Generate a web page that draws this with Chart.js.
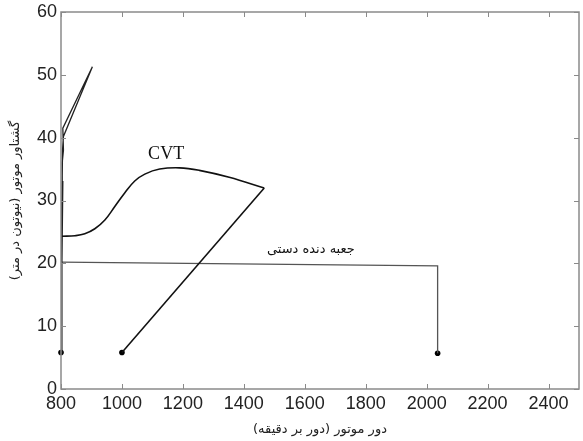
<!DOCTYPE html>
<html>
<head>
<meta charset="utf-8">
<script src="https://cdn.jsdelivr.net/npm/chart.js@4"></script>
<style>
html,body{margin:0;padding:0;background:#fff;}
#wrap{width:583px;height:441px;}
</style>
</head>
<body>
<div id="wrap"><canvas id="c" width="583" height="441"></canvas></div>
<script>
// ---- data ----
const xTicks = [800, 1000, 1200, 1400, 1600, 1800, 2000, 2200, 2400];
const yTicks = [0, 10, 20, 30, 40, 50, 60];

// CVT: straight rising branch, then the curved return branch
const cvtLineX = [1000, 1467];
const cvtLineY = [5.8, 32.0];
const cvtCurveX = [1467, 1352, 1254, 1189, 1124, 1075, 1042, 1009, 976, 944, 911, 878, 846, 803];
const cvtCurveY = [32.0, 33.7, 34.8, 35.2, 35.0, 34.2, 33.1, 31.2, 29.0, 26.9, 25.5, 24.7, 24.4, 24.3];

const lowGearX = [800, 803, 806, 804, 808, 806, 903, 808, 805, 803, 802];
const lowGearY = [5.8, 20, 33, 36, 38, 41.5, 51.3, 40.2, 38, 30, 20.2];

const manualX = [802, 2036, 2036];
const manualY = [20.2, 19.6, 5.7];

const dotX = [800, 1000, 2036];
const dotY = [5.8, 5.8, 5.7];

const labels = [
  {text: 'CVT', x: 1145, y: 37.3, font: '18px "Liberation Serif", serif'},
  {text: 'جعبه دنده دستی', x: 1620, y: 22.2, font: '13px "DejaVu Sans", sans-serif'}
];
const xTitle = 'دور موتور (دور بر دقیقه)';
const yTitle = 'گشتاور موتور (نیوتون در متر)';

const pts = (xs, ys) => xs.map((x, i) => ({x: x, y: ys[i]}));

const boxPlugin = {
  id: 'box',
  afterDraw(chart) {
    const {ctx, chartArea: a, scales} = chart;
    const xs = scales.x, ys = scales.y;
    ctx.save();
    ctx.strokeStyle = '#8a8a8a';
    ctx.lineWidth = 1.5;
    ctx.strokeRect(a.left, a.top, a.right - a.left, a.bottom - a.top);
    ctx.lineWidth = 1;
    const L = 5;
    ctx.beginPath();
    xTicks.forEach(v => {
      const px = Math.round(xs.getPixelForValue(v)) + 0.5;
      ctx.moveTo(px, a.bottom); ctx.lineTo(px, a.bottom - L);
      ctx.moveTo(px, a.top); ctx.lineTo(px, a.top + L);
    });
    yTicks.forEach(v => {
      const py = Math.round(ys.getPixelForValue(v)) + 0.5;
      ctx.moveTo(a.left, py); ctx.lineTo(a.left + L, py);
      ctx.moveTo(a.right, py); ctx.lineTo(a.right - L, py);
    });
    ctx.stroke();
    ctx.fillStyle = '#111';
    ctx.textAlign = 'center';
    ctx.textBaseline = 'middle';
    labels.forEach(l => {
      ctx.font = l.font;
      ctx.fillText(l.text, xs.getPixelForValue(l.x), ys.getPixelForValue(l.y));
    });
    ctx.restore();
  }
};

const tickFont = {family: '"Liberation Sans", Arial, sans-serif', size: 18};

new Chart(document.getElementById('c'), {
  type: 'scatter',
  data: {
    datasets: [
      {data: pts(cvtLineX, cvtLineY), showLine: true, borderColor: '#111', borderWidth: 1.6, pointRadius: 0, tension: 0},
      {data: pts(cvtCurveX, cvtCurveY), showLine: true, borderColor: '#111', borderWidth: 1.6, pointRadius: 0, tension: 0.4},
      {data: pts(lowGearX, lowGearY), showLine: true, borderColor: '#222', borderWidth: 1.3, pointRadius: 0, tension: 0},
      {data: pts(manualX, manualY), showLine: true, borderColor: '#555', borderWidth: 1.3, pointRadius: 0, tension: 0},
      {data: pts(dotX, dotY), showLine: false, clip: false, pointRadius: 2.8, pointBackgroundColor: '#000', pointBorderColor: '#000', pointBorderWidth: 0}
    ]
  },
  options: {
    responsive: false,
    animation: false,
    devicePixelRatio: 1,
    layout: {padding: {top: 12, right: 1, left: 0, bottom: 0}},
    plugins: {legend: {display: false}, tooltip: {enabled: false}},
    scales: {
      x: {
        type: 'linear', min: 800, max: 2500,
        afterBuildTicks: s => { s.ticks = xTicks.map(v => ({value: v})); },
        afterFit: s => { s.height = 52; s.paddingLeft = 0; s.paddingRight = 0; },
        grid: {display: false, drawTicks: false},
        border: {display: false},
        ticks: {color: '#222', padding: 4, font: tickFont, callback: v => String(v)},
        title: {display: true, text: xTitle, color: '#222', padding: {top: 0, bottom: 4},
                font: {family: '"DejaVu Sans", sans-serif', size: 13}}
      },
      y: {
        type: 'linear', min: 0, max: 60,
        afterBuildTicks: s => { s.ticks = yTicks.map(v => ({value: v})); },
        afterFit: s => { s.width = 61; s.paddingTop = 0; s.paddingBottom = 0; },
        grid: {display: false, drawTicks: false},
        border: {display: false},
        ticks: {color: '#222', padding: 4, font: tickFont, callback: v => String(v)},
        title: {display: true, text: yTitle, color: '#222', padding: {top: 8, bottom: 0},
                font: {family: '"DejaVu Sans", sans-serif', size: 13}}
      }
    }
  },
  plugins: [boxPlugin]
});
</script>
</body>
</html>
